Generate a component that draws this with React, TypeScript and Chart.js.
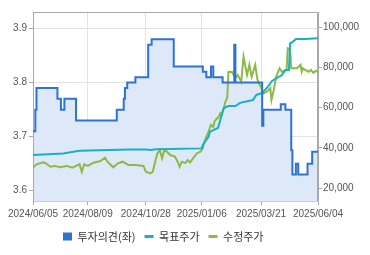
import React, { useEffect, useRef } from "react";
import { Chart, registerables } from "chart.js";

Chart.register(...registerables);

// x positions are trading-day indices (0 = 2024/06/05, 245 = 2025/06/04)
const xTickIdx = [0, 47, 97, 145, 196, 245];
const xTickLabels = ["2024/06/05", "2024/08/09", "2024/10/28", "2025/01/06", "2025/03/21", "2025/06/04"];

const leftTicks = [3.6, 3.7, 3.8, 3.9];
const rightTicks = [20000, 40000, 60000, 80000, 100000];

// 투자의견(좌) – stepped, value holds from each index onward
const opinionX = [0, 2, 3, 21, 24, 27, 37, 72, 78, 79, 81, 88, 99, 102, 121, 146, 149, 153, 155, 163, 173, 174, 197, 198, 213, 217, 222, 223, 226, 228, 236, 240, 245];
const opinionY = [3.71, 3.75, 3.79, 3.77, 3.75, 3.77, 3.73, 3.75, 3.77, 3.79, 3.80, 3.81, 3.87, 3.88, 3.83, 3.82, 3.81, 3.83, 3.81, 3.80, 3.87, 3.80, 3.72, 3.75, 3.76, 3.75, 3.675, 3.63, 3.65, 3.63, 3.65, 3.672, 3.672];

// 목표주가
const targetX = [0, 26, 40, 83, 97, 101, 106, 145, 146, 151, 152, 155, 159, 161, 164, 168, 174, 178, 189, 192, 197, 202, 205, 209, 214, 217, 220, 221, 224, 226, 234, 245];
const targetY = [36500, 37300, 38600, 39300, 39300, 39000, 39400, 39800, 41500, 45600, 48000, 48900, 49900, 53900, 59800, 60800, 60800, 62400, 63800, 66300, 67300, 70400, 73000, 74500, 76200, 78700, 78700, 91900, 93000, 94000, 94000, 94400];

// 수정주가
const priceX = [0, 3, 9, 11, 15, 19, 23, 29, 34, 40, 42, 44, 47, 52, 58, 62, 64, 69, 73, 77, 82, 88, 95, 97, 101, 103, 105, 107, 109, 111, 113, 115, 118, 122, 125, 126, 128, 131, 133, 135, 138, 141, 144, 146, 147, 149, 151, 152, 153, 155, 156, 158, 159, 161, 162, 164, 165, 167, 168, 171, 174, 176, 179, 181, 184, 186, 188, 191, 193, 197, 198, 201, 204, 205, 207, 209, 212, 214, 218, 219, 221, 222, 227, 230, 231, 232, 234, 237, 239, 241, 243, 245];
const priceY = [30200, 31900, 32900, 32400, 30700, 31100, 30400, 31100, 30200, 32000, 28200, 31900, 31100, 32700, 33500, 35200, 33200, 30400, 32400, 33200, 31600, 31600, 31100, 28200, 27400, 28200, 33200, 37400, 39000, 34900, 39000, 38200, 36500, 35700, 32400, 30700, 33200, 32500, 34000, 32800, 35200, 37400, 38200, 39800, 42500, 45600, 48100, 49900, 51400, 50400, 53000, 54700, 54700, 57200, 56400, 59700, 62200, 65100, 77700, 77800, 74600, 76200, 72900, 85300, 76200, 81200, 75300, 81200, 73700, 68800, 67100, 67900, 69600, 63800, 68800, 75300, 79500, 77800, 78700, 89400, 88800, 79500, 79500, 81200, 77800, 79500, 78700, 77800, 78700, 77300, 78200, 77800];

const seriesLabels = ["투자의견(좌)", "목표주가", "수정주가"];
const seriesColors = ["#2e72d2", "#19b0c6", "#8cba45"];

const zip = (xs: number[], ys: number[]) => xs.map((x, i) => ({ x, y: ys[i] }));

const TICK_FONT = { family: "'Liberation Sans', 'Noto Sans CJK KR', sans-serif", size: 10 };

export default function App() {
  const ref = useRef<HTMLCanvasElement | null>(null);

  useEffect(() => {
    document.body.style.margin = "0";
    const canvas = ref.current;
    if (!canvas) return;

    const frame = {
      id: "frame",
      beforeDatasetsDraw(chart: any) {
        const { ctx, chartArea: a } = chart;
        ctx.save();
        ctx.strokeStyle = "#aaaaaa";
        ctx.lineWidth = 1;
        ctx.beginPath();
        ctx.moveTo(a.left + 0.5, a.bottom);
        ctx.lineTo(a.left + 0.5, a.top + 0.5);
        ctx.lineTo(a.right - 0.5, a.top + 0.5);
        ctx.lineTo(a.right - 0.5, a.bottom);
        ctx.stroke();
        ctx.restore();
      },
    };

    const placeLegend = (chart: any) => {
      const l = chart.legend;
      if (l) {
        l.left = 54;
        l.right = 370;
        l.top = 222;
        l.bottom = 255;
      }
    };
    const legendPos = {
      id: "legendPos",
      afterLayout: placeLegend,
      beforeDraw: placeLegend,
    };

    const chart = new Chart(canvas, {
      type: "line",
      data: {
        datasets: [
          {
            label: seriesLabels[0],
            data: zip(opinionX, opinionY),
            yAxisID: "yL",
            stepped: true,
            borderColor: seriesColors[0],
            backgroundColor: "#dde8f8",
            fill: "start",
            borderWidth: 2,
            pointRadius: 0,
            pointStyle: "rect",
          },
          {
            label: seriesLabels[1],
            data: zip(targetX, targetY),
            yAxisID: "yR",
            borderColor: seriesColors[1],
            backgroundColor: seriesColors[1],
            borderWidth: 2,
            pointRadius: 0,
            fill: false,
            pointStyle: "line",
          },
          {
            label: seriesLabels[2],
            data: zip(priceX, priceY),
            yAxisID: "yR",
            borderColor: seriesColors[2],
            backgroundColor: seriesColors[2],
            borderWidth: 2,
            pointRadius: 0,
            fill: false,
            pointStyle: "line",
          },
        ],
      },
      options: {
        animation: false,
        responsive: false,
        maintainAspectRatio: false,
        layout: { padding: { top: 12, left: 0, right: 0, bottom: 0 } },
        scales: {
          x: {
            type: "linear",
            min: 0,
            max: 245,
            afterBuildTicks: (axis: any) => {
              axis.ticks = xTickIdx.map((v) => ({ value: v }));
            },
            afterFit: (axis: any) => {
              axis.height = 24;
            },
            ticks: {
              autoSkip: false,
              maxRotation: 0,
              color: "#555555",
              font: TICK_FONT,
              padding: 3,
              callback: (v: any) => {
                const i = xTickIdx.indexOf(Number(v));
                return i >= 0 ? xTickLabels[i] : "";
              },
            },
            grid: { color: "#e3e3e3", tickLength: 4, tickColor: "#aaaaaa" },
            border: { color: "#cccccc" },
          },
          yL: {
            type: "linear",
            position: "left",
            min: 3.581,
            max: 3.9306,
            afterBuildTicks: (axis: any) => {
              axis.ticks = leftTicks.map((v) => ({ value: v }));
            },
            afterFit: (axis: any) => {
              axis.width = 33;
            },
            ticks: {
              color: "#555555",
              font: TICK_FONT,
              padding: 2,
              callback: (v: any) => Number(v).toFixed(1),
            },
            grid: { color: "#e3e3e3", tickLength: 4, tickColor: "#aaaaaa" },
            border: { color: "#aaaaaa" },
          },
          yR: {
            type: "linear",
            position: "right",
            min: 13700,
            max: 107440,
            afterBuildTicks: (axis: any) => {
              axis.ticks = rightTicks.map((v) => ({ value: v }));
            },
            afterFit: (axis: any) => {
              axis.width = 52;
            },
            ticks: {
              color: "#555555",
              font: TICK_FONT,
              padding: 1,
              callback: (v: any) => Number(v).toLocaleString("en-US"),
            },
            grid: { drawOnChartArea: false, tickLength: 4, tickColor: "#aaaaaa" },
            border: { color: "#aaaaaa" },
          },
        },
        plugins: {
          filler: { drawTime: "beforeDatasetsDraw" },
          tooltip: { enabled: false },
          legend: {
            position: "bottom",
            align: "start",
            labels: {
              usePointStyle: true,
              pointStyleWidth: 9,
              boxHeight: 8,
              padding: 9,
              color: "#333333",
              font: { family: "'Noto Sans CJK KR', sans-serif", size: 11 },
              generateLabels: (ch: any) => {
                const items = Chart.defaults.plugins.legend.labels.generateLabels(ch);
                return items.map((it: any, i: number) => ({
                  ...it,
                  fillStyle: seriesColors[i],
                  strokeStyle: seriesColors[i],
                  lineWidth: i === 0 ? 0 : 3,
                }));
              },
            },
          },
        },
      },
      plugins: [frame, legendPos],
    } as any);

    return () => chart.destroy();
  }, []);

  return (
    <div style={{ position: "relative", width: 370, height: 255 }}>
      <canvas ref={ref} width={370} height={255} style={{ width: 370, height: 255, display: "block" }} />
    </div>
  );
}
